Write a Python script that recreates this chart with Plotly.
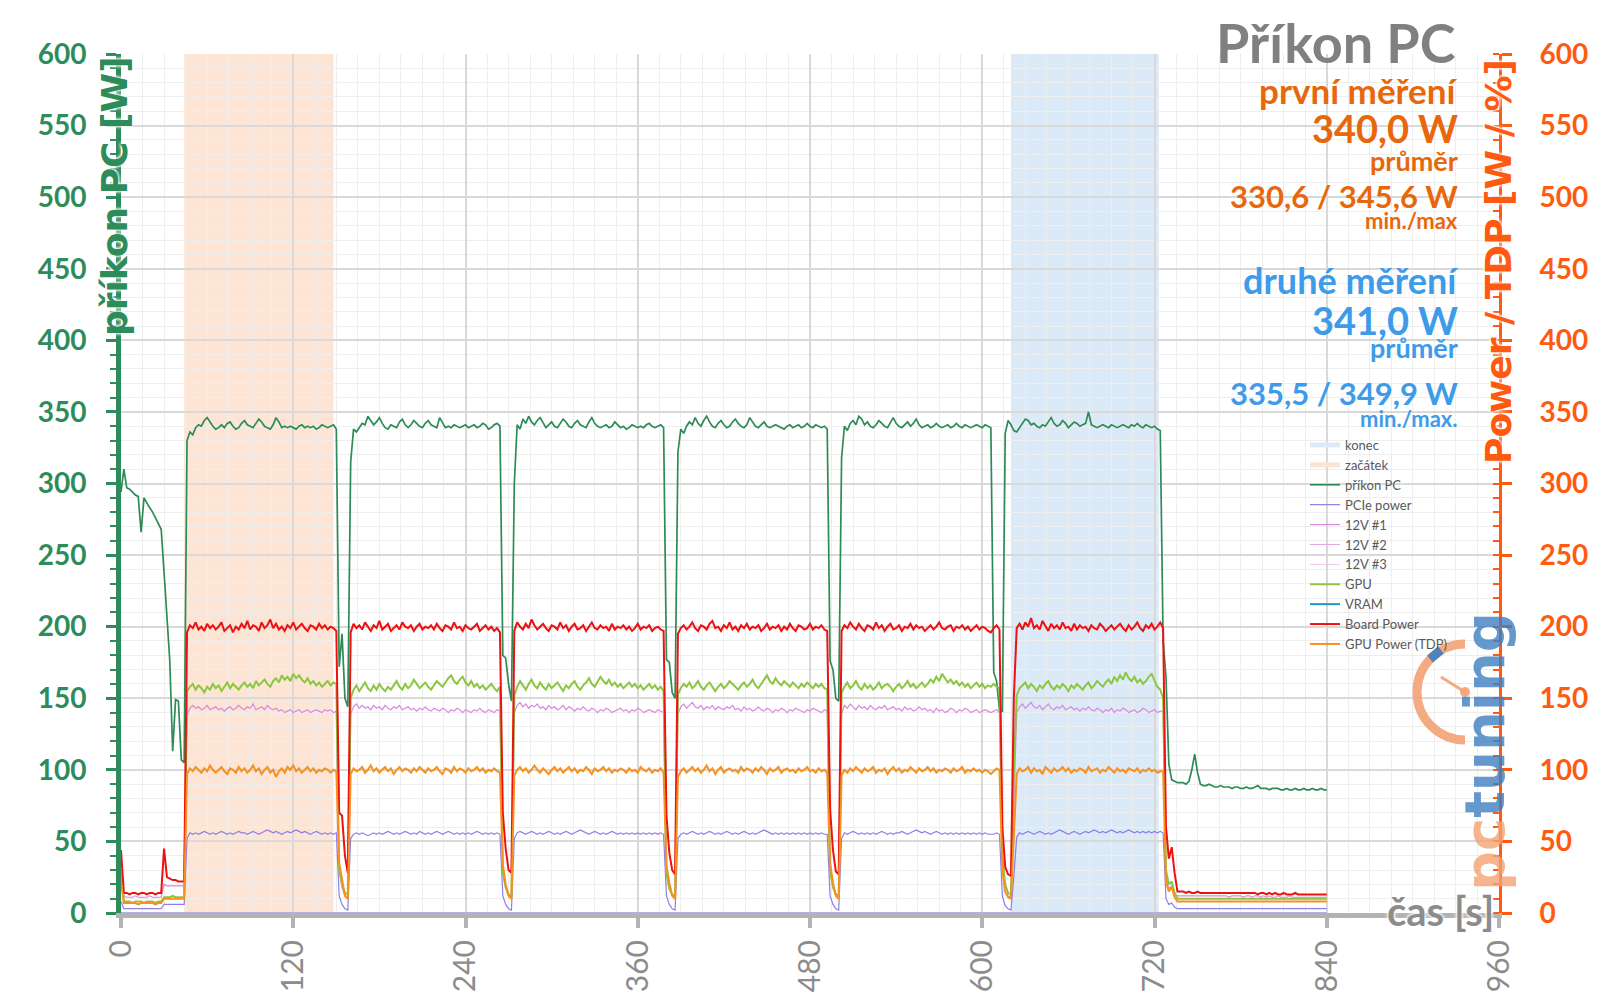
import plotly.graph_objects as go

# ---------------- data ----------------
# samples every 2 s; each series is split into segments that start at these times
SEG_START = [0, 30, 46, 152, 160, 266, 274, 380, 388, 494, 502, 608, 616, 726]
SEG_LEN = [15, 8, 53, 4, 53, 4, 53, 4, 53, 4, 53, 4, 55, 58]
SAMPLE_STEP = 2

x_ticks = [0, 120, 240, 360, 480, 600, 720, 840, 960]
zacatek_range = [44, 148]
konec_range = [620, 723]

pc_segments = [
    [294, 310, 297, 296, 294, 292, 291, 266, 290, 286, 283, 280, 276, 272, 268],
    [238, 206, 176, 113, 149, 148, 107, 105],
    [330, 336, 334, 339, 341, 340, 344, 346, 343, 340,
     338, 339, 341, 339, 342, 343, 340, 338, 339, 342,
     344, 341, 340, 339, 342, 345, 343, 340, 339, 338,
     341, 346, 343, 339, 340, 339, 340, 339, 338, 340,
     341, 339, 340, 339, 340, 338, 339, 341, 340, 339,
     340, 341, 338],
    [172, 195, 150, 144],
    [315, 338, 336, 339, 342, 341, 347, 344, 341, 343,
     346, 342, 339, 338, 341, 340, 339, 343, 345, 341,
     339, 341, 344, 342, 340, 339, 342, 344, 341, 340,
     339, 346, 342, 339, 340, 339, 341, 340, 339, 340,
     341, 339, 340, 341, 339, 340, 342, 341, 338, 339,
     341, 342, 340],
    [180, 178, 160, 148],
    [300, 341, 338, 345, 342, 347, 343, 341, 344, 346,
     342, 339, 341, 343, 340, 339, 342, 345, 343, 340,
     339, 342, 344, 341, 340, 339, 343, 346, 342, 340,
     339, 340, 341, 339, 340, 343, 341, 339, 340, 338,
     339, 341, 340, 339, 340, 339, 341, 342, 340, 339,
     340, 341, 339],
    [177, 175, 154, 150],
    [322, 338, 335, 340, 343, 341, 346, 342, 340, 344,
     347, 343, 340, 339, 342, 344, 341, 339, 340, 343,
     345, 342, 340, 339, 341, 346, 343, 340, 339, 341,
     343, 340, 339, 340, 341, 340, 339, 338, 340, 341,
     339, 340, 341, 339, 340, 342, 340, 339, 341, 340,
     339, 340, 338],
    [176, 170, 150, 148],
    [318, 340, 337, 342, 344, 341, 347, 345, 341, 343,
     340, 339, 341, 344, 342, 340, 339, 343, 346, 342,
     340, 339, 341, 343, 340, 342, 345, 341, 339, 340,
     341, 339, 340, 342, 340, 339, 340, 341, 339, 340,
     342, 340, 339, 341, 340, 339, 340, 341, 340, 339,
     341, 340, 339],
    [168, 162, 142, 141],
    [335, 344, 341, 337, 336, 339, 342, 345, 344, 341,
     342, 340, 339, 341, 340, 343, 346, 342, 340, 341,
     344, 342, 339, 341, 343, 342, 340, 341, 342, 350,
     341, 340, 339, 340, 341, 340, 339, 341, 340, 339,
     340, 341, 340, 339, 341, 340, 342, 340, 339, 341,
     340, 339, 340, 338, 337],
    [190, 165, 104, 93, 92, 91, 91, 91, 90, 92,
     100, 111, 98, 90, 89, 89, 90, 89, 88, 88,
     89, 88, 88, 88, 87, 88, 88, 87, 87, 88,
     87, 87, 88, 89, 87, 87, 87, 86, 87, 87,
     87, 86, 86, 87, 86, 86, 87, 86, 86, 87,
     86, 86, 87, 86, 86, 87, 86, 86],
]

board_segments = [
    [44, 14, 14, 13, 14, 14, 13, 14, 14, 13, 14, 14, 13, 14, 14],
    [45, 25, 24, 23, 23, 22, 22, 22],
    [196, 201, 199, 203, 198, 200, 197, 202, 199, 201,
     198, 200, 203, 197, 199, 201, 196, 200, 198, 202,
     199, 204, 198, 201, 200, 197, 203, 199, 201, 205,
     199, 202, 198, 200, 197, 201, 199, 203, 198, 200,
     202, 199, 197, 201, 200, 198, 202, 199, 201, 198,
     200, 199, 197],
    [70, 68, 40, 28],
    [196, 202, 199, 201, 198, 203, 200, 197, 201, 199,
     204, 198, 200, 202, 197, 199, 201, 198, 203, 200,
     199, 201, 197, 200, 202, 198, 200, 199, 201, 198,
     202, 199, 197, 201, 200, 198, 203, 199, 200, 197,
     201, 199, 198, 200, 202, 197, 199, 201, 198, 200,
     197, 199, 196],
    [70, 45, 30, 28],
    [197, 203, 200, 198, 202, 199, 205, 201, 198, 200,
     202, 199, 197, 201, 200, 198, 203, 199, 201, 197,
     200, 202, 198, 199, 201, 197, 200, 203, 199, 198,
     201, 199, 200, 197, 202, 198, 200, 199, 201, 198,
     200, 197, 199, 202, 198, 200, 199, 201, 197, 199,
     200, 198, 197],
    [68, 42, 30, 27],
    [195, 199, 201, 198, 200, 203, 199, 197, 201, 200,
     198, 202, 204, 199, 200, 197, 201, 199, 203, 198,
     200, 197, 201, 199, 202, 198, 200, 199, 201, 197,
     199, 202, 198, 200, 199, 201, 197, 200, 198, 202,
     199, 197, 201, 200, 198, 199, 202, 198, 200, 199,
     201, 198, 197],
    [72, 44, 29, 27],
    [197, 201, 199, 203, 200, 198, 202, 199, 197, 201,
     200, 198, 203, 199, 201, 197, 200, 202, 198, 199,
     201, 197, 200, 199, 202, 198, 201, 199, 200, 197,
     199, 201, 198, 200, 203, 199, 198, 200, 201, 197,
     200, 199, 201, 198, 200, 197, 199, 201, 198, 200,
     199, 197, 196],
    [199, 201, 198, 60],
    [32, 27, 26, 150, 199, 202, 198, 203, 200, 206,
     199, 201, 198, 204, 200, 197, 202, 199, 201, 198,
     203, 199, 200, 197, 202, 198, 201, 199, 200, 197,
     201, 199, 198, 202, 200, 197, 199, 201, 198, 200,
     202, 199, 197, 201, 198, 200, 203, 199, 197, 201,
     199, 202, 198, 200, 203],
    [199, 60, 38, 46, 28, 15, 15, 15, 14, 15,
     14, 14, 15, 14, 14, 14, 14, 14, 14, 14,
     14, 14, 14, 14, 14, 14, 14, 14, 14, 14,
     14, 14, 14, 13, 14, 14, 13, 14, 13, 14,
     13, 13, 14, 13, 13, 13, 14, 13, 13, 13,
     13, 13, 13, 13, 13, 13, 13, 13],
]

gpu_segments = [
    [25, 8, 8, 8, 7, 8, 8, 8, 7, 8, 8, 8, 7, 8, 8],
    [11, 11, 11, 12, 11, 11, 11, 11],
    [155, 158, 160, 156, 159, 157, 154, 158, 156, 160,
     157, 159, 155, 158, 161, 157, 160, 158, 156, 159,
     161, 158, 160, 157, 162, 159, 161, 163, 160, 158,
     162, 164, 161, 166, 163, 165, 162, 167, 164, 166,
     163, 161, 164, 160, 162, 159, 161, 158, 160, 162,
     159, 161, 160],
    [30, 20, 14, 13],
    [150, 156, 159, 155, 158, 161, 157, 155, 159, 156,
     160, 157, 155, 158, 156, 159, 162, 158, 156, 160,
     157, 159, 163, 160, 157, 159, 161, 158, 156, 159,
     162, 160, 158, 161, 164, 166, 162, 160, 163, 165,
     161, 159, 162, 158, 160, 157, 159, 156, 158, 160,
     157, 155, 158],
    [28, 18, 13, 12],
    [152, 158, 162, 159, 156, 160, 163, 159, 157, 161,
     158, 156, 160, 157, 159, 161, 158, 155, 159, 157,
     160, 162, 158, 156, 159, 161, 164, 160, 158, 162,
     165, 162, 160, 163, 159, 161, 158, 160, 157, 159,
     161, 158, 160, 157, 159, 156, 158, 160, 157, 159,
     156, 158, 155],
    [27, 17, 13, 12],
    [153, 157, 160, 158, 161, 157, 159, 162, 158, 156,
     159, 161, 158, 155, 158, 160, 157, 159, 162, 160,
     158, 156, 159, 161, 158, 160, 163, 159, 157, 160,
     163, 166, 162, 160, 164, 161, 159, 162, 160, 158,
     161, 159, 157, 160, 158, 161, 159, 157, 160, 158,
     160, 157, 156],
    [29, 18, 13, 12],
    [154, 158, 161, 157, 159, 162, 158, 156, 160, 157,
     159, 156, 158, 161, 157, 159, 160, 158, 155, 158,
     160, 157, 159, 162, 158, 160, 157, 159, 161, 158,
     160, 163, 161, 165, 162, 167, 164, 161, 163, 160,
     162, 159, 161, 158, 160, 157, 159, 161, 158, 160,
     157, 159, 158],
    [160, 158, 157, 40],
    [20, 14, 13, 100, 152, 157, 159, 161, 157, 160,
     158, 155, 159, 157, 160, 162, 158, 156, 159, 157,
     160, 158, 155, 159, 157, 160, 158, 156, 159, 161,
     157, 159, 162, 160, 158, 161, 163, 160, 165, 162,
     166, 163, 168, 164, 162, 165, 161, 163, 160, 162,
     165, 167, 163, 158, 156],
    [150, 30, 20, 22, 14, 10, 10, 10, 10, 10,
     10, 10, 10, 10, 10, 10, 10, 10, 10, 10,
     10, 10, 10, 10, 10, 10, 10, 10, 10, 10,
     10, 10, 10, 10, 10, 10, 10, 10, 10, 10,
     10, 10, 10, 10, 10, 10, 10, 10, 10, 10,
     10, 10, 10, 10, 10, 10, 10, 10],
]

tdp_segments = [
    [22, 7, 7, 7, 7, 7, 6, 7, 7, 7, 7, 7, 6, 7, 7],
    [10, 10, 10, 10, 10, 10, 10, 10],
    [97, 101, 99, 102, 100, 98, 101, 99, 103, 100,
     98, 100, 102, 99, 97, 101, 100, 98, 102, 99,
     101, 98, 100, 103, 99, 101, 97, 100, 102, 98,
     100, 95, 99, 101, 98, 102, 100, 103, 99, 101,
     98, 100, 102, 99, 101, 98, 100, 99, 101, 100,
     98, 100, 99],
    [35, 22, 12, 10],
    [97, 101, 99, 100, 102, 98, 100, 103, 99, 101,
     98, 100, 102, 99, 101, 97, 100, 102, 99, 101,
     100, 98, 101, 99, 102, 100, 98, 101, 99, 100,
     102, 99, 97, 101, 100, 98, 102, 99, 101, 100,
     98, 101, 99, 100, 102, 99, 101, 98, 100, 99,
     101, 99, 98],
    [34, 20, 12, 10],
    [96, 100, 102, 99, 101, 98, 100, 103, 100, 98,
     101, 99, 97, 100, 102, 99, 101, 98, 100, 102,
     99, 101, 98, 100, 99, 102, 100, 97, 101, 99,
     100, 102, 99, 101, 98, 100, 99, 101, 100, 98,
     101, 99, 100, 98, 102, 100, 99, 101, 98, 100,
     99, 101, 98],
    [33, 21, 12, 10],
    [95, 99, 101, 98, 100, 102, 99, 101, 98, 100,
     103, 99, 101, 97, 100, 102, 98, 100, 101, 99,
     100, 98, 102, 99, 101, 100, 98, 101, 99, 102,
     100, 97, 101, 99, 100, 102, 98, 100, 101, 99,
     100, 98, 101, 99, 100, 102, 99, 100, 98, 101,
     99, 100, 98],
    [35, 21, 12, 10],
    [96, 100, 98, 101, 99, 102, 100, 98, 101, 99,
     100, 102, 98, 100, 99, 101, 97, 100, 102, 99,
     101, 98, 100, 99, 102, 100, 98, 101, 99, 100,
     102, 99, 101, 98, 100, 99, 101, 100, 98, 101,
     99, 100, 102, 98, 100, 99, 101, 99, 100, 98,
     100, 99, 97],
    [99, 101, 100, 30],
    [15, 11, 10, 60, 97, 101, 99, 100, 102, 98,
     101, 99, 100, 97, 102, 100, 98, 101, 99, 100,
     102, 99, 101, 98, 100, 99, 101, 100, 98, 102,
     99, 100, 101, 98, 100, 99, 102, 100, 98, 101,
     99, 100, 98, 101, 100, 99, 101, 98, 100, 99,
     101, 99, 100, 98, 99],
    [99, 22, 15, 18, 11, 8, 8, 8, 8, 8,
     8, 8, 8, 8, 8, 8, 8, 8, 8, 8,
     8, 8, 8, 8, 8, 8, 8, 8, 8, 8,
     8, 8, 8, 8, 8, 8, 8, 8, 8, 8,
     8, 8, 8, 8, 8, 8, 8, 8, 8, 8,
     8, 8, 8, 8, 8, 8, 8, 8],
]

v12_1_segments = [
    [30, 12, 11, 11, 11, 12, 11, 11, 11, 11, 12, 11, 11, 11, 11],
    [20, 19, 19, 19, 19, 19, 19, 19],
    [138, 143, 145, 143, 144, 142, 143, 145, 142, 143,
     144, 142, 143, 141, 143, 144, 142, 143, 145, 143,
     142, 144, 143, 146, 142, 143, 144, 142, 145, 143,
     142, 143, 141, 142, 140, 141, 142, 140, 141, 142,
     140, 141, 142, 140, 141, 142, 141, 140, 142, 141,
     142, 140, 141],
    [30, 18, 12, 11],
    [139, 144, 146, 143, 145, 143, 144, 142, 145, 143,
     144, 142, 145, 143, 142, 144, 143, 145, 142, 143,
     144, 142, 143, 141, 143, 142, 144, 142, 141, 143,
     142, 141, 143, 142, 140, 142, 141, 143, 142, 140,
     142, 141, 140, 142, 141, 143, 141, 140, 142, 141,
     140, 142, 141],
    [29, 17, 12, 11],
    [140, 145, 147, 144, 146, 143, 145, 144, 146, 143,
     144, 142, 145, 143, 144, 142, 143, 145, 142, 144,
     143, 141, 143, 142, 144, 142, 141, 143, 142, 140,
     142, 141, 143, 142, 140, 141, 142, 143, 141, 142,
     140, 142, 141, 143, 142, 140, 141, 142, 141, 140,
     142, 141, 140],
    [28, 17, 12, 11],
    [139, 144, 146, 143, 145, 147, 144, 143, 145, 142,
     144, 143, 145, 142, 144, 143, 142, 144, 143, 145,
     142, 143, 141, 144, 142, 143, 141, 142, 144, 142,
     141, 143, 142, 140, 142, 141, 143, 142, 140, 142,
     141, 143, 142, 141, 140, 142, 141, 143, 142, 141,
     140, 142, 141],
    [30, 18, 12, 11],
    [139, 145, 143, 146, 144, 142, 145, 143, 144, 142,
     145, 143, 142, 144, 143, 145, 142, 143, 144, 142,
     143, 141, 144, 142, 143, 141, 142, 144, 142, 143,
     141, 142, 140, 143, 141, 142, 140, 141, 143, 142,
     140, 142, 141, 143, 142, 140, 141, 142, 140, 141,
     142, 141, 140],
    [141, 142, 140, 30],
    [15, 12, 11, 70, 140, 144, 146, 143, 145, 147,
     144, 143, 145, 142, 144, 146, 143, 142, 144, 143,
     145, 142, 143, 144, 142, 143, 141, 143, 142, 144,
     142, 141, 143, 142, 140, 142, 141, 143, 140, 142,
     141, 143, 142, 140, 141, 142, 140, 141, 143, 142,
     140, 141, 142, 140, 141],
    [141, 25, 17, 19, 13, 12, 12, 12, 12, 12,
     12, 12, 12, 12, 12, 12, 12, 12, 12, 12,
     12, 12, 12, 11, 12, 12, 12, 12, 11, 12,
     12, 11, 12, 12, 11, 12, 11, 12, 11, 11,
     12, 11, 11, 11, 12, 11, 11, 11, 11, 11,
     11, 11, 11, 11, 11, 11, 11, 11],
]

pcie_segments = [
    [8, 3, 3, 3, 3, 3, 3, 3, 3, 3, 3, 3, 3, 3, 3],
    [6, 6, 6, 6, 6, 6, 6, 6],
    [52, 56, 55, 56, 55, 56, 57, 56, 55, 56,
     55, 56, 57, 56, 55, 56, 55, 56, 57, 56,
     56, 55, 56, 57, 56, 55, 56, 57, 58, 57,
     56, 57, 56, 55, 56, 57, 56, 57, 58, 57,
     56, 57, 56, 55, 56, 57, 56, 55, 56, 55,
     56, 55, 56],
    [12, 6, 3, 2],
    [52, 55, 56, 55, 56, 55, 54, 55, 56, 55,
     56, 55, 56, 57, 56, 55, 56, 55, 56, 57,
     56, 55, 56, 55, 57, 56, 55, 56, 55, 56,
     57, 56, 55, 56, 57, 56, 55, 56, 55, 56,
     55, 56, 55, 56, 57, 56, 55, 56, 55, 56,
     55, 56, 55],
    [12, 6, 3, 2],
    [52, 56, 57, 56, 55, 56, 57, 56, 55, 56,
     55, 56, 57, 56, 55, 56, 55, 56, 57, 56,
     55, 56, 57, 58, 57, 56, 55, 56, 57, 56,
     55, 56, 55, 56, 57, 56, 55, 56, 55, 56,
     55, 56, 55, 56, 55, 56, 55, 56, 55, 56,
     55, 56, 55],
    [12, 6, 3, 2],
    [52, 55, 56, 55, 56, 57, 56, 55, 56, 55,
     56, 57, 56, 55, 56, 55, 56, 57, 56, 55,
     56, 55, 56, 57, 56, 55, 56, 55, 56, 57,
     58, 57, 56, 55, 56, 55, 56, 55, 56, 55,
     56, 55, 56, 55, 56, 55, 56, 55, 56, 55,
     56, 55, 55],
    [12, 6, 3, 2],
    [52, 56, 55, 56, 57, 56, 55, 56, 55, 56,
     55, 56, 55, 56, 57, 56, 55, 56, 55, 56,
     56, 57, 56, 55, 56, 57, 58, 57, 56, 57,
     56, 55, 56, 57, 56, 55, 56, 55, 56, 55,
     56, 55, 56, 55, 56, 55, 56, 55, 56, 55,
     56, 55, 55],
    [55, 56, 55, 12],
    [5, 3, 2, 25, 53, 56, 55, 56, 57, 56,
     55, 56, 57, 56, 55, 56, 55, 56, 57, 58,
     57, 56, 55, 56, 57, 56, 55, 56, 57, 56,
     57, 58, 57, 56, 57, 56, 57, 58, 57, 56,
     57, 56, 57, 58, 57, 56, 57, 56, 57, 56,
     57, 56, 57, 56, 57],
    [56, 10, 6, 7, 4, 3, 3, 3, 3, 3,
     3, 3, 3, 3, 3, 3, 3, 3, 3, 3,
     3, 3, 3, 3, 3, 3, 3, 3, 3, 3,
     3, 3, 3, 3, 3, 3, 3, 3, 3, 3,
     3, 3, 3, 3, 3, 3, 3, 3, 3, 3,
     3, 3, 3, 3, 3, 3, 3, 3],
]

# channels that stay at zero for the whole run
zero_time = [0, 840]
v12_2_values = [0, 0]
v12_3_values = [0, 0]
vram_values = [0, 0]


def build(name, segments):
    if len(segments) != len(SEG_START):
        raise ValueError(f"{name}: {len(segments)} segments")
    xs, ys = [], []
    for i, (start, seg) in enumerate(zip(SEG_START, segments)):
        if len(seg) != SEG_LEN[i]:
            raise ValueError(f"{name}: segment {i} has {len(seg)} values, expected {SEG_LEN[i]}")
        for k, v in enumerate(seg):
            xs.append(start + SAMPLE_STEP * k)
            ys.append(v)
    return xs, ys


# ---------------- styling ----------------
FONT = "Lato"
WIDE = "DejaVu Sans"
GREEN = "#2E8B5A"
ORANGE_AX = "#FF5B10"
ORANGE_TXT = "#E8670C"
BLUE_TXT = "#3D9BEA"
GRAY = "#8C8C8C"
HALO = "0px 0px 3px #ffffff, 0px 0px 3px #ffffff, 0px 0px 4px #ffffff"

L, R, T, B = 121, 1499, 54, 913  # plot-area pixel box


def px(xp):
    return (xp - L) / (R - L)


def py(yp):
    return (B - yp) / (B - T)


fig = go.Figure()

# zero-valued channels drawn first (legend order handled by legendrank)
fig.add_trace(go.Scatter(x=zero_time, y=vram_values, mode="lines", name="VRAM", legendrank=9,
                         line=dict(color="#1C98C2", width=2)))
fig.add_trace(go.Scatter(x=zero_time, y=v12_2_values, mode="lines", name="12V #2", legendrank=6,
                         line=dict(color="#E3A3E6", width=1)))
fig.add_trace(go.Scatter(x=zero_time, y=v12_3_values, mode="lines", name="12V #3", legendrank=7,
                         line=dict(color="#EDC6F0", width=1)))

# legend-only entries for the highlighted intervals
fig.add_trace(go.Scatter(x=[None], y=[None], mode="lines", name="konec", legendrank=1,
                         line=dict(color="#DCEAF8", width=5)))
fig.add_trace(go.Scatter(x=[None], y=[None], mode="lines", name="začátek", legendrank=2,
                         line=dict(color="#FCE5D4", width=5)))

xs, ys = build("příkon PC", pc_segments)
fig.add_trace(go.Scatter(x=xs, y=ys, mode="lines", name="příkon PC", legendrank=3,
                         line=dict(color="#2E8B57", width=1.7)))
xs, ys = build("PCIe power", pcie_segments)
fig.add_trace(go.Scatter(x=xs, y=ys, mode="lines", name="PCIe power", yaxis="y2", legendrank=4,
                         line=dict(color="#8C7FE8", width=1.2)))
xs, ys = build("12V #1", v12_1_segments)
fig.add_trace(go.Scatter(x=xs, y=ys, mode="lines", name="12V #1", yaxis="y2", legendrank=5,
                         line=dict(color="#D889DD", width=1.2)))
xs, ys = build("GPU", gpu_segments)
fig.add_trace(go.Scatter(x=xs, y=ys, mode="lines", name="GPU", yaxis="y2", legendrank=8,
                         line=dict(color="#8CC641", width=2)))
xs, ys = build("Board Power", board_segments)
fig.add_trace(go.Scatter(x=xs, y=ys, mode="lines", name="Board Power", yaxis="y2", legendrank=10,
                         line=dict(color="#EE1111", width=2)))
xs, ys = build("GPU Power (TDP)", tdp_segments)
fig.add_trace(go.Scatter(x=xs, y=ys, mode="lines", name="GPU Power (TDP)", yaxis="y2", legendrank=11,
                         line=dict(color="#F7901E", width=2)))

# highlighted intervals
fig.add_vrect(x0=zacatek_range[0], x1=zacatek_range[1], fillcolor="#FCE5D4",
              line_width=0, layer="below", opacity=1)
fig.add_vrect(x0=konec_range[0], x1=konec_range[1], fillcolor="#DCEAF8",
              line_width=0, layer="below", opacity=1)

grid_major = "#D9D9D9"
grid_minor = "#EEEEEE"

fig.update_layout(
    width=1600, height=1008,
    template="none",
    paper_bgcolor="white", plot_bgcolor="white",
    margin=dict(l=L, r=1600 - R, t=T, b=1008 - B, autoexpand=False),
    font=dict(family=FONT),
    showlegend=True,
    legend=dict(x=px(1305), y=py(430), xanchor="left", yanchor="top", traceorder="normal",
                bgcolor="rgba(0,0,0,0)", font=dict(family=FONT, size=13, color="#595959"),
                tracegroupgap=0, itemwidth=30),
    xaxis=dict(
        range=[0, 960], tickvals=x_ticks, ticktext=[str(v) for v in x_ticks],
        tickangle=-90, tickfont=dict(family=FONT, size=30, color=GRAY),
        ticks="outside", ticklen=10, tickwidth=4, tickcolor="#B3B3B3",
        showline=True, linecolor="#B3B3B3", linewidth=5,
        showgrid=True, gridcolor=grid_major, gridwidth=2, zeroline=False,
        minor=dict(dtick=15, tick0=0, showgrid=True, gridcolor=grid_minor, gridwidth=1, ticks=""),
        automargin=False, layer="above traces",
    ),
    yaxis=dict(
        range=[0, 600], dtick=50, tick0=0,
        tickfont=dict(family=FONT, size=28, color=GREEN, weight="bold"),
        ticks="outside", ticklen=10, tickwidth=3, tickcolor=GREEN,
        showline=True, linecolor=GREEN, linewidth=5,
        showgrid=True, gridcolor=grid_major, gridwidth=2, zeroline=False,
        minor=dict(dtick=10, tick0=0, showgrid=True, gridcolor=grid_minor, gridwidth=1,
                   ticks="outside", ticklen=6, tickwidth=2, tickcolor=GREEN),
        ticklabelstandoff=14, automargin=False,
    ),
    yaxis2=dict(
        range=[0, 600], dtick=50, tick0=0, overlaying="y", side="right", anchor="x",
        tickfont=dict(family=FONT, size=28, color=ORANGE_AX, weight="bold"),
        ticks="outside", ticklen=10, tickwidth=3, tickcolor=ORANGE_AX,
        showline=True, linecolor=ORANGE_AX, linewidth=3,
        showgrid=False, zeroline=False,
        minor=dict(dtick=10, tick0=0, ticks="inside", ticklen=6, tickwidth=2, tickcolor=ORANGE_AX),
        ticklabelstandoff=22, automargin=False,
    ),
)

ann = []


def text(t, xp, yp, size, color, anchor="right", angle=0, halo=False, family=FONT):
    f = dict(family=family, size=size, color=color, weight="bold")
    if halo:
        f["shadow"] = HALO
    ann.append(dict(text=t, x=px(xp), y=py(yp), xref="paper", yref="paper",
                    xanchor=anchor, yanchor="middle", showarrow=False,
                    textangle=angle, font=f))


RX = 1460
text("Příkon PC", RX - 2, 43, 54, "#808080")
text("první měření", RX, 90, 35, ORANGE_TXT)
text("340,0 W", RX, 128, 38, ORANGE_TXT)
text("průměr", RX, 161, 27, ORANGE_TXT)
text("330,6 / 345,6 W", RX, 196, 31, ORANGE_TXT)
text("min./max", RX, 221, 22, ORANGE_TXT)
text("druhé měření", RX, 280, 36, BLUE_TXT)
text("341,0 W", RX, 320, 38, BLUE_TXT)
text("průměr", RX, 347, 27, BLUE_TXT)
text("335,5 / 349,9 W", RX, 393, 31, BLUE_TXT)
text("min./max.", RX, 418, 22, BLUE_TXT)

text("příkon PC [W]", 114, 196, 36, GREEN, anchor="center", angle=-90, halo=True, family=WIDE)
text("Power / TDP [W / %]", 1498, 262, 36, ORANGE_AX, anchor="center", angle=-90, halo=True, family=WIDE)
text("čas [s]", 1440, 911, 40, GRAY, anchor="center", halo=True)

# watermark logo
ann.append(dict(text='<span style="color:#F4A274">pc</span><span style="color:#3F7FC1">tuning</span>',
                x=px(1484), y=py(752), xref="paper", yref="paper", xanchor="center", yanchor="middle",
                showarrow=False, textangle=-90, opacity=0.8,
                font=dict(family=WIDE, size=56, weight="bold")))
fig.update_layout(annotations=ann)

cx, cy = px(1465), py(692)
logo_opts = dict(xref="paper", yref="paper", xsizemode="pixel", ysizemode="pixel",
                 xanchor=cx, yanchor=cy, layer="above", opacity=0.9)
fig.add_shape(type="path", path="M 0,48 C -26.5,48 -48,26.5 -48,0 C -48,-26.5 -26.5,-48 0,-48",
              line=dict(color="#F4A274", width=9), **logo_opts)
fig.add_shape(type="path", path="M -35,33 L -24,42",
              line=dict(color="#3F7FC1", width=9), **logo_opts)
fig.add_shape(type="path", path="M 0,0 L -24,15",
              line=dict(color="#F4A274", width=3), **logo_opts)
fig.add_shape(type="circle", x0=-5, x1=5, y0=-5, y1=5,
              fillcolor="#F4A274", line_width=0, **logo_opts)

fig.write_html("out.html", config={"displayModeBar": False},
               post_script="document.body.style.margin='0px';")
